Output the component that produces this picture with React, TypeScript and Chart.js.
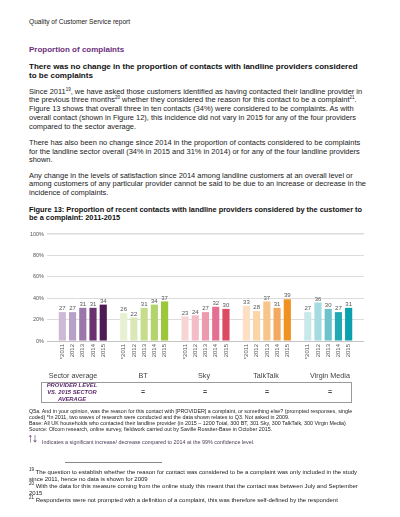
import React, { useEffect, useRef } from "react";
import { Chart, registerables } from "chart.js";

Chart.register(...registerables);

const years = ["*2011", "2012", "2013", "2014", "2015"];
const groupNames = ["Sector average", "BT", "Sky", "TalkTalk", "Virgin Media"];
const sectorValues = [27, 27, 31, 31, 34];
const btValues = [26, 22, 31, 34, 37];
const skyValues = [23, 24, 27, 32, 30];
const talkTalkValues = [33, 28, 37, 31, 39];
const virginValues = [27, 36, 30, 27, 31];
const comparisonMarks = ["=", "=", "=", "="];

const sectorColors = ["#cdbad6", "#b9a0c6", "#9a76aa", "#6b3070", "#4e1a55"];
const btColors = ["#e8f0d2", "#dae8b8", "#c6de8c", "#b3d46a", "#9cc63c"];
const skyColors = ["#f8d5d5", "#f3bcc6", "#ee9aae", "#e56f91", "#dc4a63"];
const talkTalkColors = ["#fde0c4", "#fbd4a8", "#f7c48a", "#f3a960", "#f0921f"];
const virginColors = ["#c7e9ec", "#a5dbe0", "#6cc3cb", "#22a9b6", "#0aa0ad"];

const FONT = "'Liberation Sans', Arial, Helvetica, sans-serif";
const PURPLE = "#5c2a6c";

const allValues = [sectorValues, btValues, skyValues, talkTalkValues, virginValues];
const allColors = [sectorColors, btColors, skyColors, talkTalkColors, virginColors];

function buildSeries() {
  const labels: string[] = [""];
  const data: (number | null)[] = [null];
  const colors: string[] = ["rgba(0,0,0,0)"];
  allValues.forEach((vals, g) => {
    vals.forEach((v, i) => {
      labels.push(years[i]);
      data.push(v);
      colors.push(allColors[g][i]);
    });
    labels.push("");
    data.push(null);
    colors.push("rgba(0,0,0,0)");
  });
  return { labels, data, colors };
}

const valueLabelPlugin = {
  id: "valueLabels",
  afterDatasetsDraw(chart: any) {
    const ctx = chart.ctx;
    const meta = chart.getDatasetMeta(0);
    const ds = chart.data.datasets[0];
    ctx.save();
    ctx.font = `6px ${FONT}`;
    ctx.fillStyle = "#555";
    ctx.textAlign = "center";
    ctx.textBaseline = "alphabetic";
    meta.data.forEach((el: any, i: number) => {
      const v = ds.data[i];
      if (v === null || v === undefined) return;
      ctx.fillText(String(v), el.x, el.y - 1.8);
    });
    ctx.restore();
  },
};

function BarChart() {
  const ref = useRef<HTMLCanvasElement | null>(null);
  useEffect(() => {
    if (!ref.current) return;
    const { labels, data, colors } = buildSeries();
    const chart = new Chart(ref.current, {
      type: "bar",
      data: {
        labels,
        datasets: [
          {
            data,
            backgroundColor: colors,
            barPercentage: 0.7,
            categoryPercentage: 1,
          },
        ],
      },
      options: {
        animation: false,
        responsive: false,
        maintainAspectRatio: false,
        plugins: { legend: { display: false }, tooltip: { enabled: false } },
        layout: { padding: { top: 9, left: 0, right: 36, bottom: 4 } },
        scales: {
          x: {
            grid: { display: false, drawTicks: false },
            border: { display: false },
            ticks: {
              autoSkip: false,
              maxRotation: 90,
              minRotation: 90,
              font: { size: 6, family: FONT },
              color: "#555",
              padding: 3,
            },
            afterFit(s: any) {
              s.height = 30;
            },
          },
          y: {
            min: 0,
            max: 100,
            ticks: {
              stepSize: 20,
              callback: (v: any) => `${v}%`,
              font: { size: 5.5, family: FONT },
              color: "#555",
              padding: 3,
            },
            grid: {
              drawTicks: false,
              color: (c: any) => (c.tick && c.tick.value === 0 ? "#c4c4c4" : "#dcdcdc"),
              lineWidth: (c: any) => (c.tick && c.tick.value === 100 ? 1.5 : 1),
            },
            border: { display: false },
            afterFit(s: any) {
              s.width = 47;
            },
          },
        },
      },
      plugins: [valueLabelPlugin],
    });
    return () => chart.destroy();
  }, []);
  return <canvas ref={ref} width={400} height={150} style={{ display: "block" }} />;
}

const sup: React.CSSProperties = { fontSize: "4.5px", verticalAlign: "super", lineHeight: 0 };

function Abs(props: { style: React.CSSProperties; children?: React.ReactNode }) {
  return (
    <div style={{ position: "absolute", whiteSpace: "nowrap", ...props.style }}>{props.children}</div>
  );
}

export default function App() {
  const groupCenters = [73, 143, 204, 266, 330];
  const markCenters = [143, 205, 267, 330];
  return (
    <div
      style={{
        position: "absolute",
        left: 0,
        top: 0,
        width: 400,
        height: 517,
        background: "#fff",
        fontFamily: FONT,
        color: "#1a1a1a",
        overflow: "hidden",
      }}
    >
      <Abs style={{ left: 29, top: 18.4, fontSize: "6.6px", lineHeight: "8px", color: "#222" }}>
        Quality of Customer Service report
      </Abs>
      <Abs style={{ left: 29, top: 44.6, fontSize: "8px", lineHeight: "10px", fontWeight: "bold", color: "#6b2f7d" }}>
        Proportion of complaints
      </Abs>
      <Abs style={{ left: 29, top: 61.6, fontSize: "8.05px", lineHeight: "9.3px", fontWeight: "bold", color: "#111" }}>
        There was no change in the proportion of contacts with landline providers considered
        <br />
        to be complaints
      </Abs>
      <Abs style={{ left: 29, top: 87.7, fontSize: "7.45px", lineHeight: "8.7px" }}>
        Since 2011<span style={sup}>19</span>, we have asked those customers identified as having contacted their landline provider in
        <br />
        the previous three months<span style={sup}>20</span> whether they considered the reason for this contact to be a complaint<span style={sup}>21</span>.
        <br />
        Figure 13 shows that overall three in ten contacts (34%) were considered to be complaints. As with
        <br />
        overall contact (shown in Figure 12), this incidence did not vary in 2015 for any of the four providers
        <br />
        compared to the sector average.
      </Abs>
      <Abs style={{ left: 29, top: 139.1, fontSize: "7.45px", lineHeight: "8.65px" }}>
        There has also been no change since 2014 in the proportion of contacts considered to be complaints
        <br />
        for the landline sector overall (34% in 2015 and 31% in 2014) or for any of the four landline providers
        <br />
        shown.
      </Abs>
      <Abs style={{ left: 29, top: 171.8, fontSize: "7.45px", lineHeight: "8.65px" }}>
        Any change in the levels of satisfaction since 2014 among landline customers at an overall level or
        <br />
        among customers of any particular provider cannot be said to be due to an increase or decrease in the
        <br />
        incidence of complaints.
      </Abs>
      <Abs style={{ left: 29, top: 206.1, fontSize: "7.4px", lineHeight: "8.3px", fontWeight: "bold", color: "#111" }}>
        Figure 13: Proportion of recent contacts with landline providers considered by the customer to
        <br />
        be a complaint: 2011-2015
      </Abs>

      <div style={{ position: "absolute", left: 0, top: 225, width: 400, height: 150 }}>
        <BarChart />
      </div>

      {groupNames.map((g, i) => (
        <Abs
          key={g}
          style={{
            left: groupCenters[i] - 40,
            width: 80,
            top: 370.9,
            textAlign: "center",
            fontSize: "7.2px",
            lineHeight: "9px",
            color: "#404040",
          }}
        >
          {g}
        </Abs>
      ))}

      <div
        style={{
          position: "absolute",
          left: 40.7,
          top: 381.7,
          width: 311,
          height: 21,
          border: "1px solid #9a9a9a",
          boxSizing: "border-box",
        }}
      />
      <Abs
        style={{
          left: 32,
          width: 80,
          top: 382,
          textAlign: "center",
          fontSize: "5.8px",
          lineHeight: "6.9px",
          fontWeight: "bold",
          fontStyle: "italic",
          color: PURPLE,
        }}
      >
        PROVIDER LEVEL
        <br />
        VS. 2015 SECTOR
        <br />
        AVERAGE
      </Abs>
      {comparisonMarks.map((m, i) => (
        <Abs
          key={i}
          style={{
            left: markCenters[i] - 10,
            width: 20,
            top: 387,
            textAlign: "center",
            fontSize: "7px",
            lineHeight: "9px",
            fontWeight: "bold",
            color: "#444",
          }}
        >
          {m}
        </Abs>
      ))}

      <Abs style={{ left: 29, top: 408.4, fontSize: "5.35px", lineHeight: "6px", color: "#222" }}>
        Q5a. And in your opinion, was the reason for this contact with [PROVIDER] a complaint, or something else? (prompted responses, single
        <br />
        coded) *In 2011, two waves of research were conducted and the data shown relates to Q3. Not asked in 2009.
        <br />
        Base: All UK households who contacted their landline provider (in 2015 – 1200 Total, 300 BT, 301 Sky, 300 TalkTalk, 300 Virgin Media)
        <br />
        Source: Ofcom research, online survey, fieldwork carried out by Saville Rossiter-Base in October 2015.
      </Abs>

      <Abs style={{ left: 27, top: 431.5, fontSize: "12.5px", lineHeight: "13px", fontWeight: "bold", color: PURPLE, letterSpacing: "-1.5px" }}>
        ↑↓
      </Abs>
      <Abs style={{ left: 42, top: 439.3, fontSize: "5.4px", lineHeight: "6px", color: "#4a3d57" }}>
        Indicates a significant increase/ decrease compared to 2014 at the 99% confidence level.
      </Abs>

      <div style={{ position: "absolute", left: 65, top: 462, width: 97, height: 1, background: "#888" }} />

      <Abs style={{ left: 29, top: 469.4, fontSize: "6px", lineHeight: "6.9px", color: "#1a1a1a" }}>
        <span style={sup}>19</span> The question to establish whether the reason for contact was considered to be a complaint was only included in the study
        <br />
        since 2011, hence no data is shown for 2009
        <br />
        <span style={sup}>20</span> With the data for this measure coming from the online study this meant that the contact was between July and September
        <br />
        2015
        <br />
        <span style={sup}>21</span> Respondents were not prompted with a definition of a complaint, this was therefore self-defined by the respondent
      </Abs>
    </div>
  );
}
